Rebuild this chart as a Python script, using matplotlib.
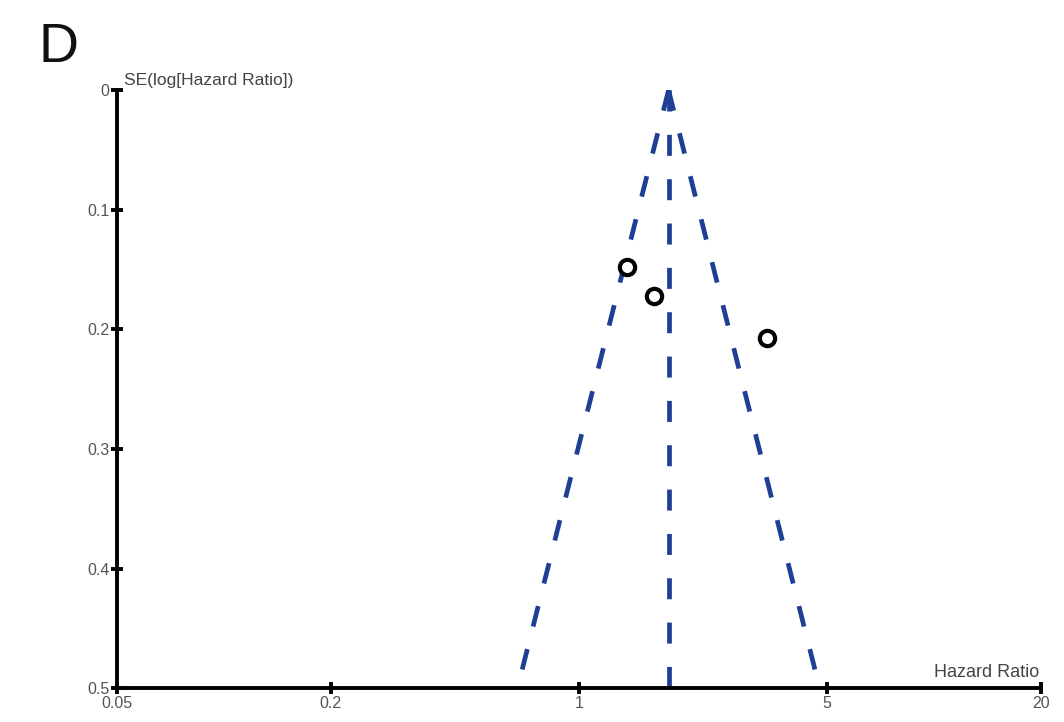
import numpy as np
import matplotlib.pyplot as plt

# study estimates
hr = [1.37, 1.63, 3.38]
se = [0.148, 0.172, 0.207]
pooled_hr = 1.79
se_max = 0.5

xticks = [0.05, 0.2, 1, 5, 20]
xticklabels = ['0.05', '0.2', '1', '5', '20']
yticks = [0, 0.1, 0.2, 0.3, 0.4, 0.5]
yticklabels = ['0', '0.1', '0.2', '0.3', '0.4', '0.5']

plt.rcParams['font.family'] = ['Liberation Sans', 'DejaVu Sans']

fig = plt.figure(figsize=(10.64, 7.22), dpi=100)
ax = fig.add_axes([0.11, 0.047, 0.868, 0.828])

blue = '#1f3f94'
s = np.array([0, se_max])
dash = (4.45, 4.94)
ax.plot(pooled_hr * np.exp(-1.96 * s), s, color=blue, lw=3.4, dashes=dash)
ax.plot(pooled_hr * np.exp(1.96 * s), s, color=blue, lw=3.4, dashes=dash)
ax.plot([pooled_hr, pooled_hr], s, color=blue, lw=3.4, dashes=dash)

ax.plot(hr, se, 'o', ms=11, mfc='white', mec='black', mew=3, ls='none')

ax.set_xscale('log')
ax.set_xlim(0.05, 20)
ax.set_ylim(0.5, 0)
ax.set_xticks(xticks)
ax.set_xticklabels(xticklabels)
ax.minorticks_off()
ax.set_yticks(yticks)
ax.set_yticklabels(yticklabels)

for side in ['top', 'right']:
    ax.spines[side].set_visible(False)
for side in ['left', 'bottom']:
    ax.spines[side].set_linewidth(2.8)
ax.tick_params(direction='inout', length=9, width=2.8, colors='black',
               labelcolor='#555555', labelsize=11.5, pad=1)

ax.text(0.008, 1.003, 'SE(log[Hazard Ratio])', transform=ax.transAxes,
        fontsize=12.5, color='#444444', ha='left', va='bottom')
ax.text(0.999, 0.012, 'Hazard Ratio', transform=ax.transAxes,
        fontsize=13, color='#444444', ha='right', va='bottom')
fig.text(0.036, 0.897, 'D', fontsize=40, color='#111111', ha='left', va='bottom')

fig.savefig('out.png', dpi=100)
